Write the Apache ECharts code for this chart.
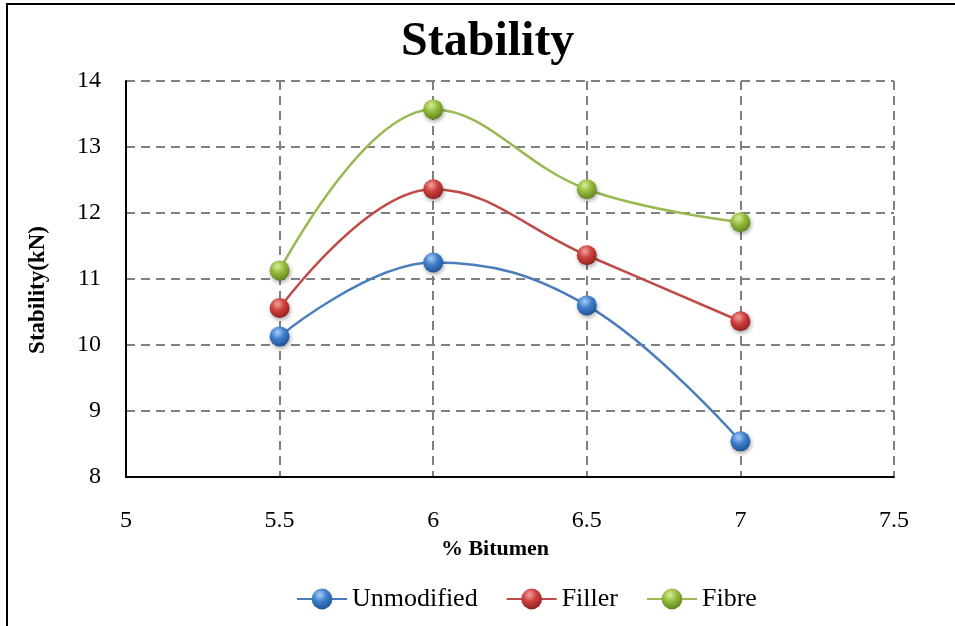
<!DOCTYPE html>
<html>
<head>
<meta charset="utf-8">
<script src="https://cdn.jsdelivr.net/npm/echarts@6/dist/echarts.min.js"></script>
<style>
  html, body { margin: 0; padding: 0; background: #fff; }
  #chart { width: 955px; height: 626px; }
</style>
</head>
<body>
<div id="chart"></div>
<script>
// % bitumen content on x, stability in kN on y
const bitumen = [5.5, 6, 6.5, 7]
const unmodified = [10.13, 11.25, 10.6, 8.54]
const filler = [10.56, 12.36, 11.36, 10.36]
const fibre = [11.13, 13.57, 12.36, 11.86]

const FONT = '"Liberation Serif", "Times New Roman", serif'

// shiny sphere look for the markers
const sphere = (light, base, dark) => ({
  type: 'radial', x: 0.4, y: 0.3, r: 0.75,
  colorStops: [
    { offset: 0, color: light },
    { offset: 0.45, color: base },
    { offset: 1, color: dark }
  ]
})

const makeSeries = (name, values, line, light, base, dark) => ({
  name,
  type: 'line',
  smooth: 0.4,
  data: bitumen.map((x, i) => [x, values[i]]),
  symbol: 'circle',
  symbolSize: 20,
  lineStyle: { color: line, width: 2.5 },
  itemStyle: {
    color: sphere(light, base, dark),
    borderWidth: 0,
    shadowColor: 'rgba(0,0,0,0.35)',
    shadowBlur: 4,
    shadowOffsetX: 1,
    shadowOffsetY: 2
  }
})

const chart = echarts.init(document.getElementById('chart'))

chart.setOption({
  animation: false,
  backgroundColor: '#fff',
  title: {
    text: 'Stability',
    left: 396,
    top: 14,
    textStyle: { fontFamily: FONT, fontWeight: 'bold', fontSize: 48, color: '#000' }
  },
  graphic: [{
    type: 'rect',
    shape: { x: 7, y: 4, width: 1200, height: 1000 },
    style: { fill: 'none', stroke: '#000', lineWidth: 2 },
    silent: true
  }],
  grid: { left: 126, right: 61, top: 81, bottom: 149, containLabel: false },
  legend: {
    left: 291,
    top: 581,
    itemWidth: 50,
    itemHeight: 26,
    itemGap: 28,
    textStyle: { fontFamily: FONT, fontSize: 26, color: '#000' },
    data: ['Unmodified', 'Filler', 'Fibre']
  },
  xAxis: {
    type: 'value',
    min: 5,
    max: 7.5,
    interval: 0.5,
    name: '% Bitumen',
    nameLocation: 'middle',
    nameGap: 60,
    nameTextStyle: { fontFamily: FONT, fontWeight: 'bold', fontSize: 22, color: '#000', padding: [0, 30, 0, 0] },
    axisLine: { lineStyle: { color: '#000', width: 2 } },
    axisTick: { show: false },
    axisLabel: { fontFamily: FONT, fontSize: 24, color: '#000', margin: 32 },
    splitLine: { show: true, lineStyle: { color: '#808080', type: [9, 6], width: 2 } }
  },
  yAxis: {
    type: 'value',
    min: 8,
    max: 14,
    interval: 1,
    name: 'Stability(kN)',
    nameLocation: 'middle',
    nameGap: 76,
    nameTextStyle: { fontFamily: FONT, fontWeight: 'bold', fontSize: 23, color: '#000', padding: [0, 22, 0, 0] },
    axisLine: { show: true, lineStyle: { color: '#000', width: 2 } },
    axisTick: { show: false },
    axisLabel: { fontFamily: FONT, fontSize: 24, color: '#000', margin: 25 },
    splitLine: { show: true, lineStyle: { color: '#808080', type: [9, 6], width: 2 } }
  },
  series: [
    makeSeries('Unmodified', unmodified, '#4A7EBB', '#a9cdf5', '#3f7fcc', '#1d4f8f'),
    makeSeries('Filler', filler, '#BE4B48', '#f2a3a1', '#cc3f3c', '#8c1f1d'),
    makeSeries('Fibre', fibre, '#98B954', '#d9ee9c', '#93bb3c', '#5d7f1d')
  ]
})
</script>
</body>
</html>
